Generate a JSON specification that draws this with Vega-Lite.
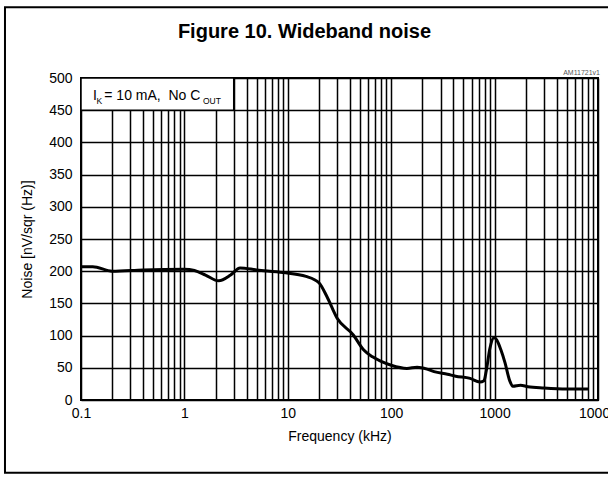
{
  "$schema": "https://vega.github.io/schema/vega-lite/v6.json",
  "width": 517,
  "height": 322,
  "autosize": {"type": "none"},
  "padding": {"left": 81, "top": 78, "right": 10, "bottom": 81},
  "background": "white",
  "config": {
    "font": "Liberation Sans",
    "view": {"stroke": "black", "strokeWidth": 2},
    "axis": {"labelColor": "black", "titleColor": "black", "titleFontWeight": "normal", "grid": true, "gridColor": "black", "gridWidth": 1.5, "gridOpacity": 1, "ticks": false, "domain": false, "labelFontSize": 14, "titleFontSize": 14},
    "axisY": {"labelPadding": 9, "titlePadding": 14},
    "axisX": {"labelPadding": 6, "titlePadding": 9, "labelOverlap": false, "labelFlush": false, "labelBound": false}
  },
  "title": {
    "text": "Figure 10. Wideband noise",
    "fontSize": 20,
    "fontWeight": "bold",
    "font": "Liberation Sans",
    "color": "black",
    "anchor": "middle",
    "frame": "group",
    "baseline": "alphabetic",
    "dx": -35,
    "offset": -52
  },
  "resolve": {"axis": {"x": "independent", "y": "independent"}},
  "datasets": {
    "noise": [
      {"f": 0.1, "noise": 207},
      {"f": 0.13, "noise": 207},
      {"f": 0.2, "noise": 200},
      {"f": 0.4, "noise": 202},
      {"f": 1.0, "noise": 203},
      {"f": 1.25, "noise": 201},
      {"f": 1.6, "noise": 194},
      {"f": 2.15, "noise": 185},
      {"f": 2.8, "noise": 194},
      {"f": 3.45, "noise": 205},
      {"f": 5, "noise": 202},
      {"f": 9, "noise": 198},
      {"f": 15, "noise": 192},
      {"f": 20, "noise": 182},
      {"f": 24, "noise": 160},
      {"f": 30, "noise": 127},
      {"f": 43, "noise": 101},
      {"f": 54, "noise": 78},
      {"f": 66, "noise": 67},
      {"f": 80, "noise": 60},
      {"f": 100, "noise": 54},
      {"f": 142, "noise": 49},
      {"f": 178, "noise": 51},
      {"f": 222, "noise": 48},
      {"f": 260, "noise": 44},
      {"f": 350, "noise": 40},
      {"f": 420, "noise": 37},
      {"f": 580, "noise": 33.5},
      {"f": 720, "noise": 28},
      {"f": 790, "noise": 30},
      {"f": 830, "noise": 45},
      {"f": 900, "noise": 80},
      {"f": 990, "noise": 97},
      {"f": 1050, "noise": 93},
      {"f": 1150, "noise": 78},
      {"f": 1260, "noise": 58},
      {"f": 1400, "noise": 30},
      {"f": 1500, "noise": 21.5},
      {"f": 1780, "noise": 23},
      {"f": 2100, "noise": 20.5},
      {"f": 3000, "noise": 18.5},
      {"f": 5000, "noise": 17},
      {"f": 8000, "noise": 17}
    ]
  },
  "layer": [
    {
      "data": {"name": "noise"},
      "mark": {"type": "line", "color": "black", "strokeWidth": 3, "interpolate": "monotone"},
      "encoding": {
        "x": {
          "field": "f",
          "type": "quantitative",
          "scale": {"type": "log", "domain": [0.1, 10000], "nice": false},
          "axis": {
            "title": "Frequency (kHz)",
            "values": [0.1,0.2,0.3,0.4,0.5,0.6,0.7,0.8,0.9,1,2,3,4,5,6,7,8,9,10,20,30,40,50,60,70,80,90,100,200,300,400,500,600,700,800,900,1000,2000,3000,4000,5000,6000,7000,8000,9000,10000],
            "labelExpr": "indexof([0.1,1,10,100,1000,10000], datum.value) >= 0 ? format(datum.value, '~g') : ''"
          }
        },
        "y": {
          "field": "noise",
          "type": "quantitative",
          "scale": {"domain": [0, 500], "nice": false},
          "axis": {
            "title": "Noise [nV/sqr (Hz)]",
            "values": [0,50,100,150,200,250,300,350,400,450,500]
          }
        }
      }
    },
    {
      "data": {"values": [{"frame": 1}]},
      "mark": {"type": "rect", "fill": null, "stroke": "black", "strokeWidth": 2},
      "encoding": {
        "x": {"datum": 0.0184, "type": "quantitative", "axis": null},
        "x2": {"datum": 30000},
        "y": {"datum": 610, "type": "quantitative", "axis": null},
        "y2": {"datum": -113}
      }
    },
    {
      "data": {"values": [{"box": 1}]},
      "mark": {"type": "rect", "fill": "white", "stroke": "black", "strokeWidth": 1.5},
      "encoding": {
        "x": {"datum": 0.1, "type": "quantitative", "axis": null},
        "x2": {"datum": 3},
        "y": {"datum": 450, "type": "quantitative", "axis": null},
        "y2": {"datum": 500}
      }
    },
    {
      "data": {"values": [{"t": 1}]},
      "mark": {"type": "text", "text": "I", "fontSize": 14, "align": "left", "baseline": "alphabetic", "dx": 12, "color": "black"},
      "encoding": {"x": {"datum": 0.1, "type": "quantitative", "axis": null}, "y": {"datum": 465.8, "type": "quantitative", "axis": null}}
    },
    {
      "data": {"values": [{"t": 1}]},
      "mark": {"type": "text", "text": "K", "fontSize": 8.5, "align": "left", "baseline": "alphabetic", "dx": 15.5, "dy": 3.5, "color": "black"},
      "encoding": {"x": {"datum": 0.1, "type": "quantitative", "axis": null}, "y": {"datum": 465.8, "type": "quantitative", "axis": null}}
    },
    {
      "data": {"values": [{"t": 1}]},
      "mark": {"type": "text", "text": "= 10 mA,\u00a0 No C", "fontSize": 14, "align": "left", "baseline": "alphabetic", "dx": 23.3, "color": "black"},
      "encoding": {"x": {"datum": 0.1, "type": "quantitative", "axis": null}, "y": {"datum": 465.8, "type": "quantitative", "axis": null}}
    },
    {
      "data": {"values": [{"t": 1}]},
      "mark": {"type": "text", "text": "OUT", "fontSize": 8.5, "align": "left", "baseline": "alphabetic", "dx": 122, "dy": 3.5, "color": "black"},
      "encoding": {"x": {"datum": 0.1, "type": "quantitative", "axis": null}, "y": {"datum": 465.8, "type": "quantitative", "axis": null}}
    },
    {
      "data": {"values": [{"t": 1}]},
      "mark": {"type": "text", "text": "AM11721v1", "fontSize": 7, "align": "right", "baseline": "bottom", "dx": 2, "dy": -2, "color": "#555555"},
      "encoding": {"x": {"datum": 10000, "type": "quantitative", "axis": null}, "y": {"datum": 500, "type": "quantitative", "axis": null}}
    }
  ]
}
